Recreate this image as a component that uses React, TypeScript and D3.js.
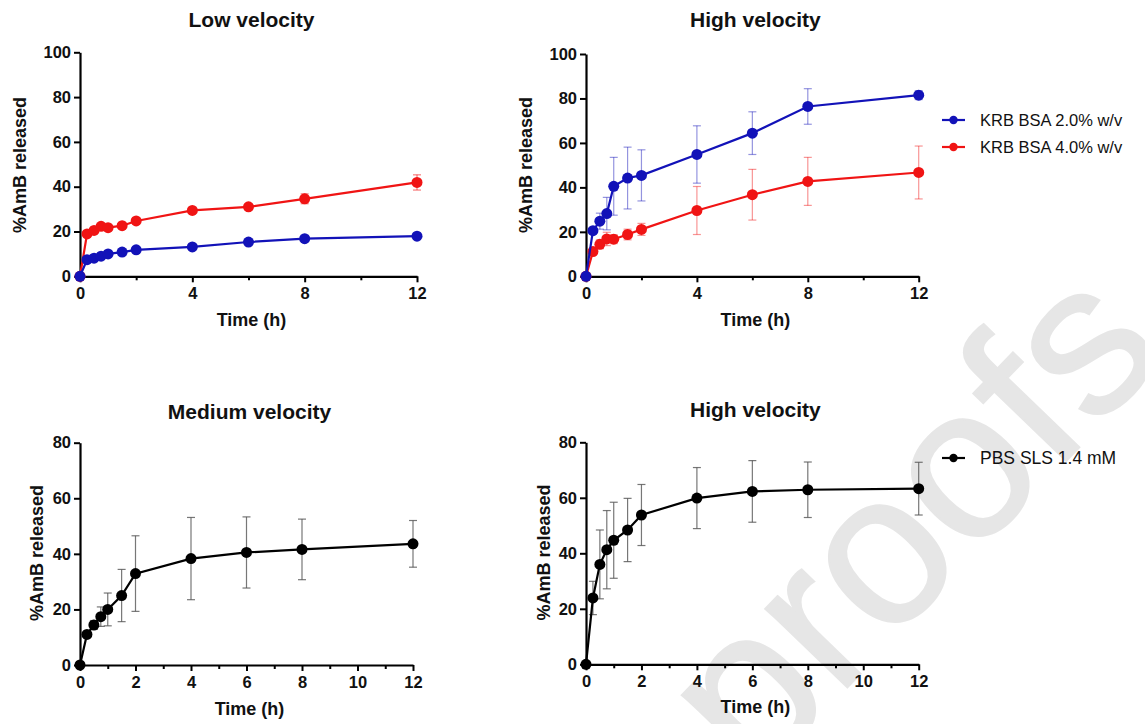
import React, { useEffect, useRef } from "react";
import * as d3 from "d3";

const times = [0, 0.25, 0.5, 0.75, 1, 1.5, 2, 4, 6, 8, 12];

// Low velocity
const lowBlue = [0, 7.4, 8.1, 9.0, 10.0, 10.8, 11.8, 13.1, 15.3, 16.8, 17.9];
const lowBlueErr = [0, 0.5, 0.6, 0.6, 0.6, 0.7, 0.8, 0.8, 0.9, 1.0, 1.0];
const lowRed = [0, 18.9, 20.5, 22.3, 21.7, 22.6, 24.7, 29.4, 31.0, 34.6, 41.9];
const lowRedErr = [0, 0.8, 1.0, 1.0, 1.0, 1.0, 1.2, 1.2, 1.2, 2.2, 3.4];

// High velocity (BSA)
const highBlue = [0, 20.5, 24.8, 28.2, 40.5, 44.2, 45.4, 54.8, 64.4, 76.4, 81.5];
const highBlueErr = [0, 1.0, 3.6, 7.3, 13.0, 13.9, 11.5, 12.9, 9.6, 8.0, 2.0];
const highRed = [0, 11.1, 14.4, 16.8, 16.7, 18.8, 21.1, 29.6, 36.7, 42.7, 46.7];
const highRedErr = [0, 1.0, 2.0, 3.0, 2.0, 2.4, 2.7, 10.8, 11.4, 10.8, 11.9];

// Medium velocity (SLS)
const medBlack = [0, 11.0, 14.4, 17.4, 20.0, 25.0, 32.9, 38.3, 40.5, 41.6, 43.6];
const medBlackErr = [0, 0.8, 1.6, 3.5, 5.9, 9.4, 13.6, 14.8, 12.8, 10.9, 8.4];

// High velocity (SLS)
const highBlack = [0, 23.9, 36.0, 41.3, 44.7, 48.4, 53.8, 59.9, 62.3, 62.9, 63.3];
const highBlackErr = [0, 6.0, 12.4, 14.1, 13.7, 11.4, 11.0, 11.0, 11.1, 10.0, 9.5];

const legendTop = ["KRB BSA 2.0% w/v", "KRB BSA 4.0% w/v"];
const legendBottom = ["PBS SLS 1.4 mM"];
const titles = ["Low velocity", "High velocity", "Medium velocity", "High velocity"];
const xLabel = "Time (h)";
const yLabel = "%AmB released";
const watermark = "proofs";

const BLUE = "#1212b8";
const RED = "#f01414";
const BLACK = "#000000";
const FONT = "Arial, 'Liberation Sans', Helvetica, sans-serif";

type Series = { values: number[]; err: number[]; color: string; errColor: string; errOpacity: number };
type Panel = {
  title: string;
  xr: [number, number];
  yr: [number, number];
  yMax: number;
  xMajor: number[];
  xMinor: number[];
  yTicks: number[];
  titleY: number;
  xLabelY: number;
  yLabelX: number;
  yLabelY: number;
  series: Series[];
};

const panels: Panel[] = [
  {
    title: titles[0], xr: [80, 417], yr: [276.3, 52.3], yMax: 100,
    xMajor: [0, 4, 8, 12], xMinor: [2, 6, 10], yTicks: [0, 20, 40, 60, 80, 100],
    titleY: 27, xLabelY: 326, yLabelX: 25.5, yLabelY: 165,
    series: [
      { values: lowRed, err: lowRedErr, color: RED, errColor: RED, errOpacity: 0.55 },
      { values: lowBlue, err: lowBlueErr, color: BLUE, errColor: BLUE, errOpacity: 0.55 },
    ],
  },
  {
    title: titles[1], xr: [586, 918.7], yr: [276.3, 54], yMax: 100,
    xMajor: [0, 4, 8, 12], xMinor: [2, 6, 10], yTicks: [0, 20, 40, 60, 80, 100],
    titleY: 27, xLabelY: 326, yLabelX: 532, yLabelY: 165,
    series: [
      { values: highRed, err: highRedErr, color: RED, errColor: RED, errOpacity: 0.45 },
      { values: highBlue, err: highBlueErr, color: BLUE, errColor: BLUE, errOpacity: 0.45 },
    ],
  },
  {
    title: titles[2], xr: [80, 413], yr: [665, 442.7], yMax: 80,
    xMajor: [0, 2, 4, 6, 8, 10, 12], xMinor: [1, 3, 5, 7, 9, 11], yTicks: [0, 20, 40, 60, 80],
    titleY: 418.5, xLabelY: 714.5, yLabelX: 43, yLabelY: 553,
    series: [{ values: medBlack, err: medBlackErr, color: BLACK, errColor: "#555", errOpacity: 0.8 }],
  },
  {
    title: titles[3], xr: [586, 918.7], yr: [664.3, 442.3], yMax: 80,
    xMajor: [0, 2, 4, 6, 8, 10, 12], xMinor: [1, 3, 5, 7, 9, 11], yTicks: [0, 20, 40, 60, 80],
    titleY: 417, xLabelY: 713, yLabelX: 550, yLabelY: 552.5,
    series: [{ values: highBlack, err: highBlackErr, color: BLACK, errColor: "#555", errOpacity: 0.8 }],
  },
];

export default function App() {
  const ref = useRef<SVGSVGElement | null>(null);

  useEffect(() => {
    const svg = d3.select(ref.current);
    svg.selectAll("*").remove();

    // watermark
    svg.append("text")
      .attr("transform", "translate(754,784) rotate(-46)")
      .attr("font-family", FONT)
      .attr("font-size", 215)
      .attr("fill", "#e6e6e6")
      .attr("stroke", "#e6e6e6")
      .attr("stroke-width", 2)
      .text(watermark);

    panels.forEach((p) => {
      const g = svg.append("g");
      const x = d3.scaleLinear().domain([0, 12]).range(p.xr);
      const y = d3.scaleLinear().domain([0, p.yMax]).range(p.yr);

      const xAxis = g.append("g").attr("transform", `translate(0,${p.yr[0]})`)
        .call(d3.axisBottom(x).tickValues(p.xMajor).tickSize(6).tickSizeOuter(0).tickPadding(5).tickFormat(d3.format("d")));
      g.append("g").attr("transform", `translate(0,${p.yr[0]})`)
        .call(d3.axisBottom(x).tickValues(p.xMinor).tickSize(4).tickSizeOuter(0).tickFormat(() => ""))
        .call((s) => s.select(".domain").remove());
      const yAxis = g.append("g").attr("transform", `translate(${p.xr[0]},0)`)
        .call(d3.axisLeft(y).tickValues(p.yTicks).tickSize(6).tickSizeOuter(0).tickPadding(3).tickFormat(d3.format("d")));

      [xAxis, yAxis].forEach((a) => {
        a.select(".domain").attr("stroke", "#000").attr("stroke-width", 2.2);
        a.selectAll(".tick text")
          .attr("font-family", FONT).attr("font-size", 16.5).attr("font-weight", "bold").attr("fill", "#111");
      });
      g.selectAll(".tick line").attr("stroke", "#000").attr("stroke-width", 2);

      g.append("text").attr("x", (p.xr[0] + p.xr[1]) / 2 + 3).attr("y", p.titleY)
        .attr("text-anchor", "middle").attr("font-family", FONT).attr("font-size", 21)
        .attr("font-weight", "bold").attr("fill", "#111").text(p.title);
      g.append("text").attr("x", (p.xr[0] + p.xr[1]) / 2 + 3).attr("y", p.xLabelY)
        .attr("text-anchor", "middle").attr("font-family", FONT).attr("font-size", 18)
        .attr("font-weight", "bold").attr("fill", "#111").text(xLabel);
      g.append("text").attr("transform", `translate(${p.yLabelX},${p.yLabelY}) rotate(-90)`)
        .attr("text-anchor", "middle").attr("font-family", FONT).attr("font-size", 18)
        .attr("font-weight", "bold").attr("fill", "#111").text(yLabel);

      p.series.forEach((s) => {
        const pts = times.map((t, i) => ({ t, v: s.values[i], e: s.err[i] }));
        const eg = g.append("g").attr("stroke", s.errColor).attr("stroke-opacity", s.errOpacity).attr("stroke-width", 1.2);
        pts.filter((d) => d.e > 0).forEach((d) => {
          const cx = x(d.t);
          const y1 = y(d.v + d.e), y2 = y(d.v - d.e);
          eg.append("line").attr("x1", cx).attr("x2", cx).attr("y1", y1).attr("y2", y2);
          eg.append("line").attr("x1", cx - 4).attr("x2", cx + 4).attr("y1", y1).attr("y2", y1);
          eg.append("line").attr("x1", cx - 4).attr("x2", cx + 4).attr("y1", y2).attr("y2", y2);
        });
        const line = d3.line<{ t: number; v: number }>().x((d) => x(d.t)).y((d) => y(d.v));
        g.append("path").datum(pts).attr("d", line).attr("fill", "none")
          .attr("stroke", s.color).attr("stroke-width", 2.2);
        g.append("g").selectAll("circle").data(pts).join("circle")
          .attr("cx", (d) => x(d.t)).attr("cy", (d) => y(d.v)).attr("r", 5.5).attr("fill", s.color);
      });
    });

    const legendItems = [
      { label: legendTop[0], color: BLUE, y: 120, size: 16.5 },
      { label: legendTop[1], color: RED, y: 147, size: 16.5 },
      { label: legendBottom[0], color: BLACK, y: 458, size: 17.5 },
    ];
    const lg = svg.append("g");
    legendItems.forEach((it) => {
      lg.append("line").attr("x1", 942).attr("x2", 965).attr("y1", it.y).attr("y2", it.y)
        .attr("stroke", it.color).attr("stroke-width", 2.2);
      lg.append("circle").attr("cx", 953.5).attr("cy", it.y).attr("r", 4.2).attr("fill", it.color);
      lg.append("text").attr("x", 980).attr("y", it.y + 6).attr("font-family", FONT)
        .attr("font-size", it.size).attr("fill", "#111").text(it.label);
    });
  }, []);

  return (
    <svg ref={ref} width={1145} height={724}
      style={{ position: "absolute", left: 0, top: 0, background: "#fff" }} />
  );
}
